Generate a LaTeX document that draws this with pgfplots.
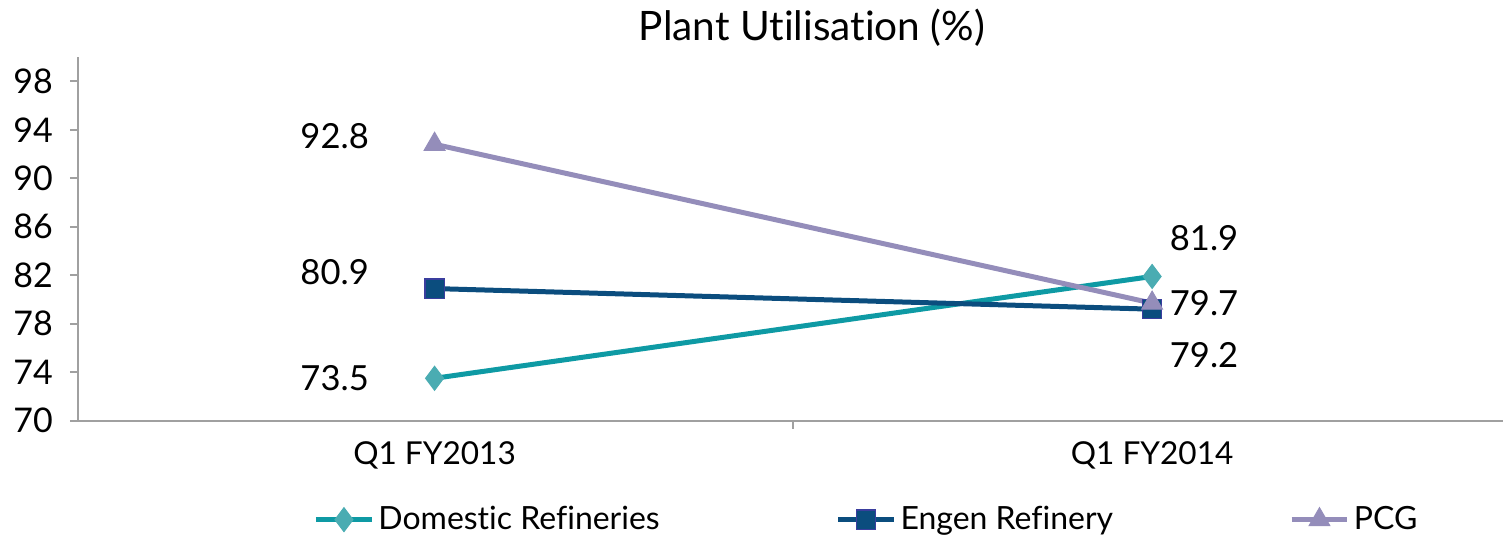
\documentclass[border=0pt]{standalone}
\usepackage{fontspec}
\setmainfont{Lato}[Ligatures=NoCommon]
\usepackage{pgfplots}
\pgfplotsset{compat=1.18}
\definecolor{axisgray}{HTML}{A0A0A0}
\definecolor{tealc}{HTML}{0E9AA4}
\definecolor{tealf}{HTML}{4AACB2}
\definecolor{navyc}{HTML}{0B4D7E}
\definecolor{navye}{HTML}{3A3E9E}
\definecolor{lavc}{HTML}{948DBA}
\begin{document}
\begin{tikzpicture}
\begin{axis}[
  scale only axis, width=713pt, height=182pt,
  xmin=-0.497, xmax=1.489, ymin=70, ymax=100,
  axis x line*=bottom, axis y line*=left,
  axis line style={draw=axisgray, line width=1pt},
  ytick={70,74,...,98},
  tick align=outside,
  major tick length=4pt,
  tick style={draw=axisgray, line width=1pt},
  xtick={0.5}, xticklabels={},
  extra x ticks={0,1},
  extra x tick labels={Q1 FY2013,Q1 FY2014},
  extra x tick style={major tick length=0pt, xticklabel style={yshift=-7pt, font=\fontsize{15.8}{19}\selectfont}},
  /pgf/number format/assume math mode=true,
  yticklabel style={xshift=-5pt, font=\fontsize{17}{20}\selectfont},
  clip=false,
  legend columns=3,
  legend style={draw=none, fill=none, font=\fontsize{16}{19}\selectfont,
    at={(rel axis cs:0.165,-0.272)}, anchor=west,
    /tikz/every even column/.append style={column sep=86pt},
    inner sep=0pt, cells={anchor=west}},
  legend image code/.code={\draw[mark repeat=2,mark phase=2] plot coordinates {(0pt,0pt)(14pt,0pt)(28pt,0pt)};},
]
\addplot[tealc, line width=2.5pt, mark=diamond*, mark size=6pt,
  mark options={fill=tealf, draw=tealf, line width=0.5pt}]
  coordinates {(0,73.5) (1,81.9)};
\addlegendentry{Domestic Refineries}
\addplot[navyc, line width=2.5pt, mark=square*, mark size=4.8pt,
  mark options={fill=navyc, draw=navye, line width=0.6pt}]
  coordinates {(0,80.9) (1,79.2)};
\addlegendentry{Engen Refinery}
\addplot[lavc, line width=2.5pt, mark=triangle*, mark size=6pt,
  mark options={fill=lavc, draw=lavc, line width=0.5pt}]
  coordinates {(0,92.8) (1,79.7)};
\addlegendentry{PCG}
\begin{scope}[every node/.style={font=\fontsize{17.3}{20}\selectfont}]
\node at (axis cs:0,73.5) [xshift=-50pt] {73.5};
\node at (axis cs:0,80.9) [xshift=-50pt, yshift=8pt] {80.9};
\node at (axis cs:0,92.8) [xshift=-50pt, yshift=4pt] {92.8};
\node at (axis cs:1,81.9) [xshift=26pt, yshift=19pt] {81.9};
\node at (axis cs:1,79.7) [xshift=26pt] {79.7};
\node at (axis cs:1,79.2) [xshift=26pt, yshift=-23pt] {79.2};
\end{scope}
\node[font=\fontsize{20.3}{24}\selectfont] at (rel axis cs:0.515,1.08) {Plant Utilisation (\%)};
\path (rel axis cs:-0.0547,-0.3187) rectangle (rel axis cs:1,1.1566);
\end{axis}
\end{tikzpicture}
\end{document}
